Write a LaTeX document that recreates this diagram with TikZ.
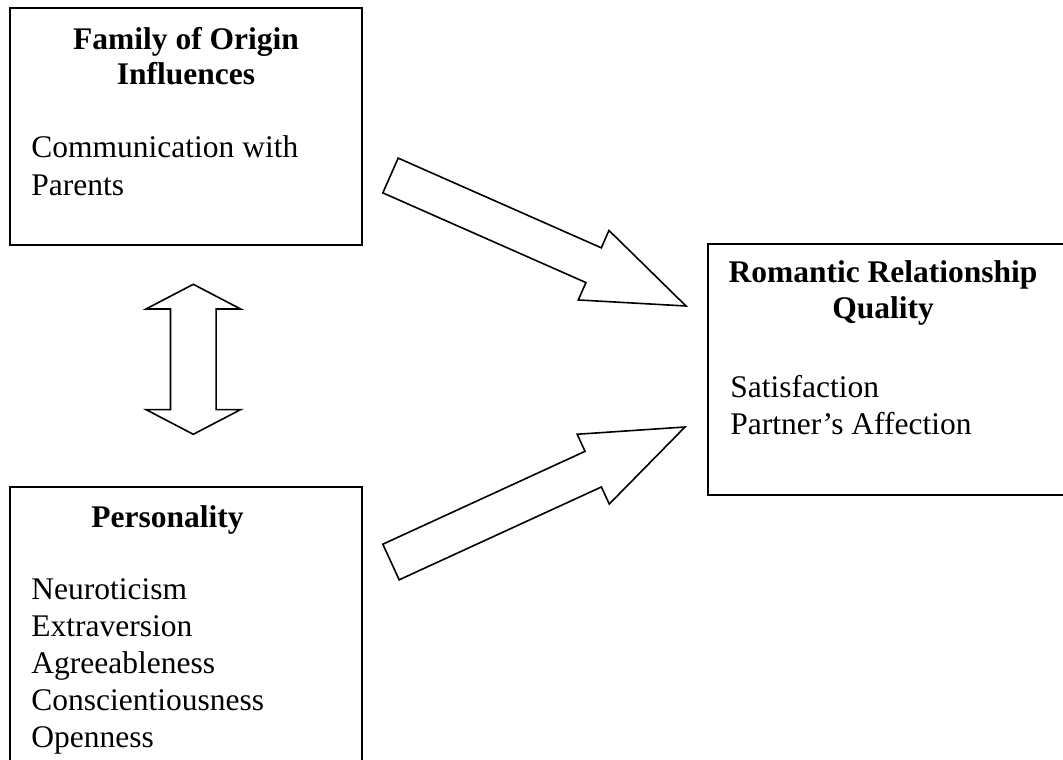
\documentclass[tikz,border=0pt]{standalone}
\usepackage{fontspec}
\setmainfont{Liberation Serif}
\usepackage{tikz}
\usetikzlibrary{calc}

\begin{document}
\begin{tikzpicture}[x=0.5pt, y=-0.5pt,
  box/.style={draw, line width=1pt, inner sep=0pt},
  heading/.style={font=\fontsize{15.75}{17.8}\selectfont\bfseries, align=center, inner sep=0pt},
  body/.style={font=\fontsize{15.75}{18.5}\selectfont, align=left, inner sep=0pt},
  blockarrow/.style={draw, line width=0.8pt, fill=white, line join=miter}]
\useasboundingbox (0,0) rectangle (1063,759);
\clip (0,0) rectangle (1063,759);
\fill[white] (0,0) rectangle (1063,759);
% the three boxes
\node[box, minimum width=176pt, minimum height=118.5pt] (fam) at (186,126.5) {};
\node[box, minimum width=176pt, minimum height=156.5pt] (pers) at (186,643.5) {};
\node[box, minimum width=196pt, minimum height=125.5pt] (rel) at (904,369.5) {};
% texts (anchored at the baseline of their last line)
\node[heading, anchor=base] (fam title) at (186,85) {Family of Origin\\Influences};
\node[body, anchor=base west] (fam items) at (31,195) {Communication with\\Parents};
\node[heading, anchor=base] (pers title) at (167.5,527) {Personality};
\node[body, anchor=base west] (pers items) at (31,747) {Neuroticism\\Extraversion\\Agreeableness\\Conscientiousness\\Openness};
\node[heading, anchor=base] (rel title) at (883,318) {Romantic Relationship\\Quality};
\node[body, anchor=base west] (rel items) at (730,434) {Satisfaction\\Partner's Affection};
% block arrows
\coordinate (fam tail) at (390.5,175.5);
\coordinate (fam tip) at (686,306);
\coordinate (fam head) at ($(fam tip)!50.5pt!(fam tail)$);
\draw[blockarrow] ($(fam tail)!9.5pt!90:(fam tip)$) -- ($(fam head)!9.5pt!-90:(fam tail)$)
  -- ($(fam head)!19pt!-90:(fam tail)$) -- (fam tip) -- ($(fam head)!19pt!90:(fam tail)$)
  -- ($(fam head)!9.5pt!90:(fam tail)$) -- ($(fam tail)!9.5pt!-90:(fam tip)$) -- cycle;
\coordinate (pers tail) at (391,562);
\coordinate (pers tip) at (685,427);
\coordinate (pers head) at ($(pers tip)!50.5pt!(pers tail)$);
\draw[blockarrow] ($(pers tail)!9.8pt!90:(pers tip)$) -- ($(pers head)!9.8pt!-90:(pers tail)$)
  -- ($(pers head)!19.2pt!-90:(pers tail)$) -- (pers tip) -- ($(pers head)!19.2pt!90:(pers tail)$)
  -- ($(pers head)!9.8pt!90:(pers tail)$) -- ($(pers tail)!9.8pt!-90:(pers tip)$) -- cycle;
% two-headed arrow between the left boxes
\coordinate (link top) at (193.3,284.3);
\coordinate (link bottom) at (193.3,434.3);
\coordinate (link top head) at ($(link top)!12.35pt!(link bottom)$);
\coordinate (link bottom head) at ($(link bottom)!12.35pt!(link top)$);
\draw[blockarrow] (link top) -- ($(link top head)!23.65pt!90:(link bottom)$)
  -- ($(link top head)!11.4pt!90:(link bottom)$) -- ($(link bottom head)!11.4pt!-90:(link top)$)
  -- ($(link bottom head)!23.65pt!-90:(link top)$) -- (link bottom)
  -- ($(link bottom head)!23.65pt!90:(link top)$) -- ($(link bottom head)!11.4pt!90:(link top)$)
  -- ($(link top head)!11.4pt!-90:(link bottom)$) -- ($(link top head)!23.65pt!-90:(link bottom)$) -- cycle;
\end{tikzpicture}
\end{document}
